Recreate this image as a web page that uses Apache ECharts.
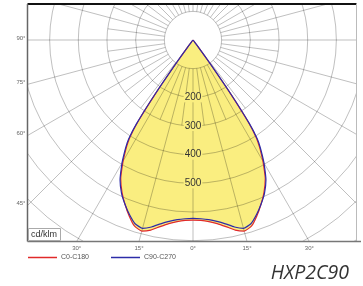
<!DOCTYPE html>
<html>
<head>
<meta charset="utf-8">
<script src="https://cdn.jsdelivr.net/npm/echarts@6/dist/echarts.min.js"></script>
<style>
html, body { margin: 0; padding: 0; background: #fff; }
#main { width: 363px; height: 286px; }
</style>
</head>
<body>
<div id="main"></div>
<script>
// gamma angles (deg from nadir) and intensities in cd/klm
var gammas  = [0, 2.5, 5, 7.5, 10, 12.5, 15, 17.5, 20, 22.5, 25, 27.5, 30, 31, 32, 33, 34, 35, 36, 37, 38, 40, 90, 180];
var c0c180  = [628, 630, 636, 646, 661, 679, 690, 680, 652, 620, 586, 546, 488, 462, 436, 404, 342, 222, 96, 28, 7, 0, 0, 0];
var c90c270 = [622, 624, 629, 638, 651, 668, 680, 672, 648, 620, 590, 551, 495, 469, 443, 412, 352, 234, 106, 34, 9, 0, 0, 0];
var radialLabels = [200, 300, 400, 500];
var sideAngles = [90, 75, 60, 45];
var bottomAngles = [-30, -15, 0, 15, 30];

var chart = echarts.init(document.getElementById('main'));

// layout of the diagram
var cx = 193, cy = 40;
var pxPer100 = 28.67;
var boxL = 27.5, boxT = 4, boxR = 356.5, boxB = 241.5;
var gridColor = 'rgba(0,0,0,0.25)';
var font = 'Liberation Sans, Arial, sans-serif';

function curve(vals) {
    var pts = [];
    for (var i = gammas.length - 1; i >= 0; i--) pts.push([vals[i], gammas[i]]);
    for (var j = 1; j < gammas.length; j++) pts.push([vals[j], 360 - gammas[j]]);
    return pts;
}

var hiddenRadius = { show: false, type: 'value', min: 0, max: 10 };
function angleAxis(idx, step, colors) {
    return {
        polarIndex: idx, type: 'value', min: 0, max: 360, interval: step,
        startAngle: 270, clockwise: true, z: 3,
        axisLine: { show: false }, axisTick: { show: false }, axisLabel: { show: false },
        splitLine: { show: !!colors, lineStyle: { color: colors || gridColor, width: 1 } }
    };
}

var graphics = [
    // white masks outside the plot box
    { type: 'rect', shape: { x: 0, y: 0, width: 363, height: boxT }, style: { fill: '#fff' }, z: 50 },
    { type: 'rect', shape: { x: 0, y: 0, width: boxL, height: 286 }, style: { fill: '#fff' }, z: 50 },
    { type: 'rect', shape: { x: boxR, y: 0, width: 10, height: 286 }, style: { fill: '#fff' }, z: 50 },
    { type: 'rect', shape: { x: 0, y: boxB, width: 363, height: 50 }, style: { fill: '#fff' }, z: 50 },
    // frame
    { type: 'line', shape: { x1: boxL, y1: boxT, x2: boxR, y2: boxT }, style: { stroke: '#111', lineWidth: 2 }, z: 60 },
    { type: 'line', shape: { x1: boxL, y1: boxT, x2: boxL, y2: boxB }, style: { stroke: '#666', lineWidth: 1.5 }, z: 60 },
    { type: 'line', shape: { x1: boxR, y1: boxT, x2: boxR, y2: boxB }, style: { stroke: '#bbb', lineWidth: 1 }, z: 60 },
    { type: 'line', shape: { x1: boxL, y1: boxB, x2: 361, y2: boxB }, style: { stroke: '#777', lineWidth: 1.5 }, z: 60 },
    // unit box
    { type: 'rect', shape: { x: 28.5, y: 228.5, width: 32, height: 12 }, style: { fill: '#fff', stroke: '#aaa', lineWidth: 1 }, z: 61 },
    { type: 'text', x: 31, y: 235, style: { text: 'cd/klm', font: '9px ' + font, fill: '#333', verticalAlign: 'middle' }, z: 62 },
    // title
    { type: 'text', x: 349, y: 273, style: { text: 'HXP2C90', font: 'italic 19.5px Open Sans, sans-serif', fill: '#333', align: 'right', verticalAlign: 'middle' }, z: 62 }
];

sideAngles.forEach(function (a) {
    var rad = a * Math.PI / 180;
    var y = cy + (cx - boxL) * Math.cos(rad) / Math.sin(rad);
    graphics.push({ type: 'text', x: boxL - 2, y: y - 2,
        style: { text: a + '°', font: '6px ' + font, fill: '#666', align: 'right', verticalAlign: 'middle' }, z: 62 });
});
bottomAngles.forEach(function (a) {
    var x = cx + (boxB - cy) * Math.tan(a * Math.PI / 180);
    graphics.push({ type: 'text', x: x, y: boxB + 7,
        style: { text: Math.abs(a) + '°', font: '6px ' + font, fill: '#666', align: 'center', verticalAlign: 'middle' }, z: 62 });
});

var option = {
    animation: false,
    backgroundColor: '#fff',
    polar: [
        { center: [cx, cy], radius: pxPer100 * 10 },
        { center: [cx, cy], radius: [pxPer100, pxPer100 * 10] },
        { center: [cx, cy], radius: [pxPer100, pxPer100 * 3] }
    ],
    angleAxis: [
        angleAxis(0, 15, null),
        angleAxis(1, 15, gridColor),
        angleAxis(2, 7.5, ['rgba(0,0,0,0)', gridColor])  // only the in-between 7.5° rays
    ],
    radiusAxis: [
        {
            polarIndex: 0, type: 'value', min: 0, max: 1000, interval: 100, z: 4,
            axisLine: { show: false }, axisTick: { show: false },
            axisLabel: {
                margin: 0, align: 'center', verticalAlign: 'middle',
                fontSize: 10, fontFamily: font, color: '#333',
                backgroundColor: '#faee80', padding: [0, 1],
                formatter: function (v) { return radialLabels.indexOf(v) >= 0 ? String(v) : ''; }
            },
            splitLine: { show: true, lineStyle: { color: gridColor, width: 1 } }
        },
        Object.assign({ polarIndex: 1 }, hiddenRadius),
        Object.assign({ polarIndex: 2 }, hiddenRadius)
    ],
    legend: {
        left: 28, top: 254, padding: 0, icon: 'rect', z: 70,
        itemWidth: 29, itemHeight: 1.5, itemGap: 22,
        data: ['C0-C180', 'C90-C270'],
        textStyle: { fontSize: 7, fontFamily: font, color: '#555', padding: [0, 0, 0, -1] }
    },
    graphic: graphics,
    series: [
        {
            name: 'fill', type: 'line', coordinateSystem: 'polar', polarIndex: 0,
            data: curve(c0c180), symbol: 'none', silent: true, z: 1, smooth: 0.15,
            lineStyle: { opacity: 0 }, areaStyle: { color: '#faee80', opacity: 1 }
        },
        {
            name: 'C0-C180', type: 'line', coordinateSystem: 'polar', polarIndex: 0,
            data: curve(c0c180), symbol: 'none', z: 6, smooth: 0.15,
            lineStyle: { color: '#e02a2a', width: 1.2 }, itemStyle: { color: '#e02a2a' }
        },
        {
            name: 'C90-C270', type: 'line', coordinateSystem: 'polar', polarIndex: 0,
            data: curve(c90c270), symbol: 'none', z: 6, smooth: 0.15,
            lineStyle: { color: '#2c2ca8', width: 1.2 }, itemStyle: { color: '#2c2ca8' }
        }
    ]
};

chart.setOption(option);
</script>
</body>
</html>
